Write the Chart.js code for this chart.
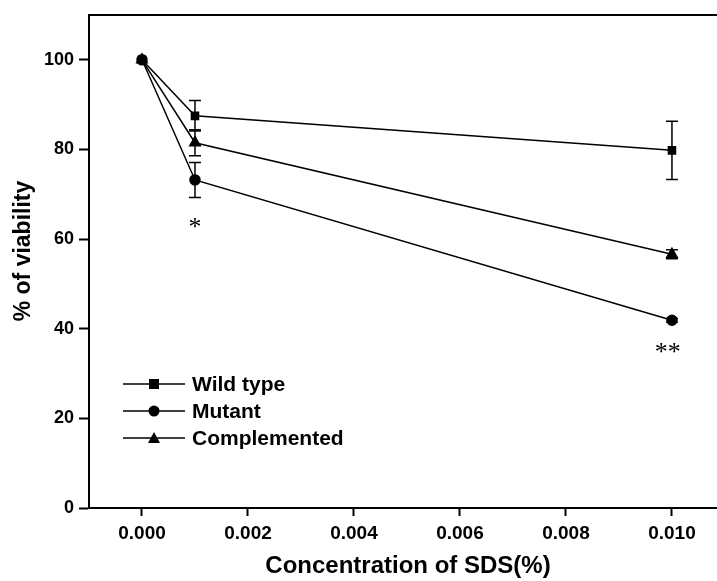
<!DOCTYPE html>
<html lang="en">
<head>
  <meta charset="UTF-8">
  <title>% of viability vs SDS</title>
  <script src="https://cdn.jsdelivr.net/npm/chart.js"></script>
  <style>
    html, body { margin: 0; padding: 0; background: #fff; }
    #wrap { width: 717px; height: 581px; }
  </style>
</head>
<body>
  <div id="wrap"><canvas id="viabilityChart" width="717" height="581"></canvas></div>

  <script>
    // data
    const concentrations = [0, 0.001, 0.010];
    const wildType = [100, 87.5, 79.8];
    const wildTypeErr = [0, 3.4, 6.5];
    const mutant = [100, 73.2, 41.9];
    const mutantErr = [0, 3.9, 0.4];
    const complemented = [100, 81.5, 56.6];
    const complementedErr = [0, 2.9, 1.0];
    const xTickValues = [0, 0.002, 0.004, 0.006, 0.008, 0.010];
    const yTickValues = [0, 20, 40, 60, 80, 100];
    // significance marks: [x, y, text]
    const starMarks = [[0.001, 63.8, "*"], [0.00992, 35.8, "**"]];

    const toPoints = (vals) => concentrations.map((c, i) => ({ x: c, y: vals[i] }));

    const boldFont = "'Liberation Sans', Arial, sans-serif";

    const series = [
      { label: "Wild type", values: wildType, err: wildTypeErr, style: "rect", radius: 5 },
      { label: "Mutant", values: mutant, err: mutantErr, style: "circle", radius: 5 },
      { label: "Complemented", values: complemented, err: complementedErr, style: "triangle", radius: 6 }
    ];

    // error bars, stars, top frame, axis titles and inline legend
    const extras = {
      id: "extras",
      beforeDatasetsDraw(chart) {
        const { ctx, scales: { x, y } } = chart;
        ctx.save();
        ctx.strokeStyle = "#000";
        ctx.lineWidth = 1.5;
        series.forEach(s => {
          s.values.forEach((v, i) => {
            const e = s.err[i];
            if (!e) return;
            const px = x.getPixelForValue(concentrations[i]);
            const top = y.getPixelForValue(v + e);
            const bot = y.getPixelForValue(v - e);
            ctx.beginPath();
            ctx.moveTo(px, top); ctx.lineTo(px, bot);
            ctx.moveTo(px - 6, top); ctx.lineTo(px + 6, top);
            ctx.moveTo(px - 6, bot); ctx.lineTo(px + 6, bot);
            ctx.stroke();
          });
        });
        ctx.restore();
      },
      afterDraw(chart) {
        const { ctx, chartArea, scales: { x, y } } = chart;
        ctx.save();
        // top frame line
        ctx.strokeStyle = "#000";
        ctx.lineWidth = 2;
        ctx.beginPath();
        ctx.moveTo(chartArea.left, chartArea.top);
        ctx.lineTo(chart.width, chartArea.top);
        ctx.stroke();

        // axis titles
        ctx.fillStyle = "#000";
        ctx.textAlign = "center";
        ctx.textBaseline = "middle";
        ctx.font = "bold 24px " + boldFont;
        ctx.fillText("Concentration of SDS(%)", 408, 566);
        ctx.save();
        ctx.translate(24, 251);
        ctx.rotate(-Math.PI / 2);
        ctx.font = "bold 23px " + boldFont;
        ctx.fillText("% of viability", 0, 0);
        ctx.restore();

        // stars
        ctx.font = "26px 'Liberation Serif', 'DejaVu Serif', serif";
        starMarks.forEach(([sx, sy, txt]) => {
          ctx.fillText(txt, x.getPixelForValue(sx), y.getPixelForValue(sy) + 6);
        });

        // legend
        ctx.font = "bold 21px " + boldFont;
        ctx.textAlign = "left";
        ctx.lineWidth = 1.5;
        series.forEach((s, i) => {
          const ly = 384 + i * 27;
          ctx.beginPath();
          ctx.moveTo(123, ly); ctx.lineTo(185, ly);
          ctx.stroke();
          ctx.beginPath();
          if (s.style === "rect") {
            ctx.fillRect(149, ly - 5, 10, 10);
          } else if (s.style === "circle") {
            ctx.arc(154, ly, 5.5, 0, Math.PI * 2);
            ctx.fill();
          } else {
            ctx.moveTo(154, ly - 6); ctx.lineTo(160, ly + 5); ctx.lineTo(148, ly + 5);
            ctx.closePath();
            ctx.fill();
          }
          ctx.fillText(s.label, 192, ly + 1);
        });
        ctx.restore();
      }
    };

    const ctx = document.getElementById("viabilityChart").getContext("2d");
    new Chart(ctx, {
      type: "scatter",
      data: {
        datasets: series.map(s => ({
          label: s.label,
          data: toPoints(s.values),
          showLine: true,
          borderColor: "#000",
          backgroundColor: "#000",
          borderWidth: 1.5,
          pointStyle: s.style,
          pointRadius: s.radius,
          pointHoverRadius: s.radius
        }))
      },
      options: {
        responsive: false,
        animation: false,
        layout: { autoPadding: false, padding: { top: 15, right: 0, left: 0, bottom: 0 } },
        plugins: { legend: { display: false }, tooltip: { enabled: false } },
        scales: {
          x: {
            type: "linear",
            min: -0.001,
            max: 0.01085,
            afterBuildTicks: axis => { axis.ticks = xTickValues.map(v => ({ value: v })); },
            afterFit: axis => { axis.height = 73; axis.paddingRight = 0; },
            border: { display: true, color: "#000", width: 2 },
            grid: { drawOnChartArea: false, drawTicks: true, tickLength: 8, color: "#000", tickWidth: 2 },
            ticks: {
              color: "#000",
              padding: 6,
              font: { family: boldFont, size: 19, weight: "bold" },
              callback: v => v.toFixed(3)
            }
          },
          y: {
            min: 0,
            max: 110,
            afterBuildTicks: axis => { axis.ticks = yTickValues.map(v => ({ value: v })); },
            afterFit: axis => { axis.width = 89; axis.paddingTop = 0; },
            border: { display: true, color: "#000", width: 2 },
            grid: { drawOnChartArea: false, drawTicks: true, tickLength: 10, color: "#000", tickWidth: 2 },
            ticks: {
              color: "#000",
              padding: 5,
              font: { family: boldFont, size: 18, weight: "bold" }
            }
          }
        }
      },
      plugins: [extras]
    });
  </script>
</body>
</html>
